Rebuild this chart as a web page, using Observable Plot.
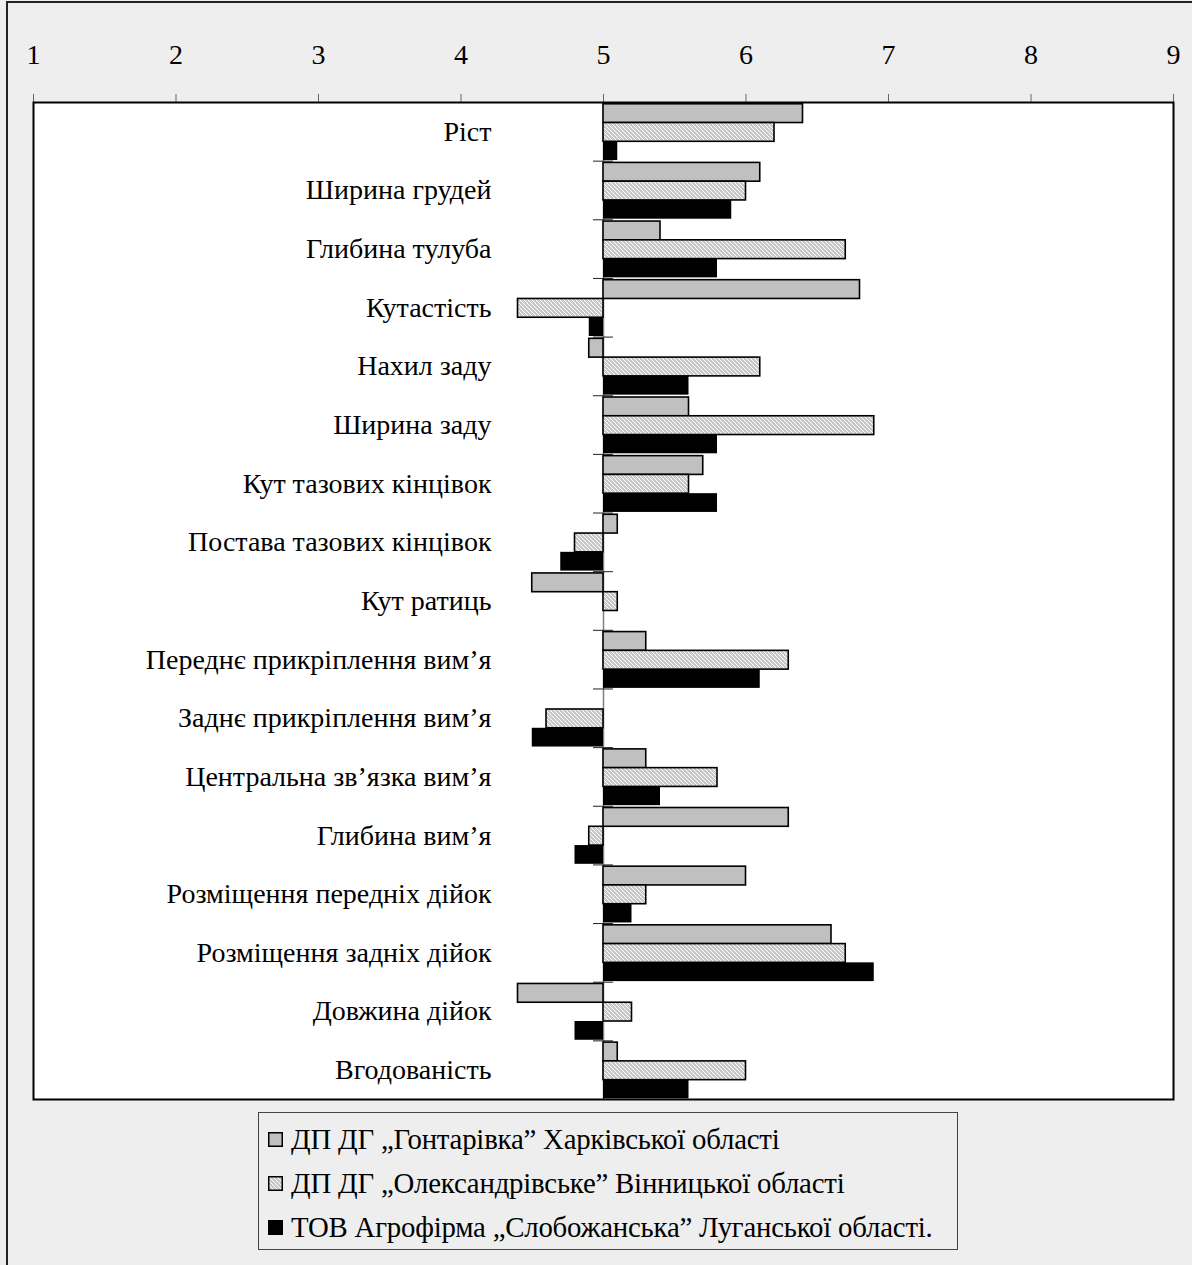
<!DOCTYPE html>
<html><head><meta charset="utf-8">
<script src="https://cdn.jsdelivr.net/npm/d3@7"></script>
<script src="https://cdn.jsdelivr.net/npm/@observablehq/plot@0.6"></script>
<style>
body{margin:0;background:#eeeeee;font-family:"Liberation Serif","Times New Roman",serif;color:#000;}
#wrap{position:relative;width:1192px;height:1265px;overflow:hidden;}
#border{position:absolute;left:6px;top:1px;width:2000px;height:2000px;border-left:2px solid #222;border-top:2px solid #222;}
#chart{position:absolute;left:0;top:0;}
#legend{position:absolute;left:258px;top:1112px;width:700px;height:138px;border:1px solid #444;box-sizing:border-box;}
.row{position:absolute;left:9px;height:30px;display:flex;align-items:center;font-size:28.8px;white-space:nowrap;letter-spacing:-0.2px;}
.row svg{margin-right:8px;flex:none;}
</style></head>
<body>
<div id="wrap"><div id="border"></div><div id="chart"></div><div id="legend"></div></div>
<script>
const categories = ["Ріст","Ширина грудей","Глибина тулуба","Кутастість","Нахил заду","Ширина заду","Кут тазових кінцівок","Постава тазових кінцівок","Кут ратиць","Переднє прикріплення вим’я","Заднє прикріплення вим’я","Центральна зв’язка вим’я","Глибина вим’я","Розміщення передніх дійок","Розміщення задніх дійок","Довжина дійок","Вгодованість"];
const seriesNames = ["ДП ДГ „Гонтарівка” Харківської області","ДП ДГ „Олександрівське” Вінницької області","ТОВ Агрофірма „Слобожанська” Луганської області."];
const gontarivka     = [6.4,6.1,5.4,6.8,4.9,5.6,5.7,5.1,4.5,5.3,5.0,5.3,6.3,6.0,6.6,4.4,5.1];
const oleksandrivske = [6.2,6.0,6.7,4.4,6.1,6.9,5.6,4.8,5.1,6.3,4.6,5.8,4.9,5.3,6.7,5.2,6.0];
const slobozhanska   = [5.1,5.9,5.8,4.9,5.6,5.8,5.8,4.7,5.0,6.1,4.5,5.4,4.8,5.2,6.9,4.8,5.6];
const xTicks = [1,2,3,4,5,6,7,8,9];
const baseline = 5;

const seriesValues = [gontarivka, oleksandrivske, slobozhanska];
const fills = ["#c0c0c0","url(#hatch)","#000"];
const barH = 0.32, barOff = 0.03;

const rows = j => categories.map((c,i)=>({cat:c,i,j,v:seriesValues[j][i]})).filter(d=>d.v!==baseline);

const barMark = j => Plot.rect(rows(j), {
  x1: baseline, x2: "v",
  y1: d => d.i + barOff + d.j*barH,
  y2: d => d.i + barOff + (d.j+1)*barH,
  fill: fills[j], stroke: "#000", strokeWidth: j===2 ? 0 : 1.6
});

const chart = Plot.plot({
  width: 1192, height: 1102,
  marginLeft: 33, marginRight: 19, marginTop: 102, marginBottom: 3,
  style: {fontSize: "28px", fontFamily: "'Liberation Serif','Times New Roman',serif", background: "transparent", color: "#000"},
  x: {domain: [1,9], axis: "top", ticks: xTicks, tickSize: 9, tickPadding: 30, tickFormat: d3.format("d"), label: null},
  y: {domain: [0, categories.length], reverse: true, axis: null},
  marks: [
    Plot.frame({fill: "white"}),
    Plot.ruleX([baseline], {stroke: "#808080", strokeWidth: 1.5}),
    Plot.ruleY(d3.range(1, categories.length), {x1: baseline - 0.07, x2: baseline + 0.07, stroke: "#222", strokeWidth: 1}),
    barMark(0), barMark(1), barMark(2),
    Plot.text(categories, {x: baseline, y: (d,i)=>i+0.5, text: d=>d, textAnchor: "end", dx: -112, fill: "#000"}),
    Plot.frame({stroke: "#000", strokeWidth: 2})
  ]
});
const ns = "http://www.w3.org/2000/svg";
const defs = document.createElementNS(ns, "defs");
defs.innerHTML = '<pattern id="hatch" patternUnits="userSpaceOnUse" width="4" height="4"><rect width="4" height="4" fill="#c8c8c8"/><path d="M-1,-1L5,5M3,-1L5,1M-1,3L1,5" stroke="#ffffff" stroke-width="1"/></pattern>';
chart.prepend(defs);
d3.select(chart).selectAll("g[aria-label='x-axis tick'] path, g[aria-label='x-axis tick'] line").attr("stroke","#666");
document.getElementById("chart").appendChild(chart);

const legend = document.getElementById("legend");
const rowTops = [11, 55, 99];
seriesNames.forEach((name, j) => {
  const r = document.createElement("div");
  r.className = "row";
  r.style.top = rowTops[j] + "px";
  r.innerHTML = `<svg width="15" height="15"><rect x="0.75" y="0.75" width="13.5" height="13.5" fill="${fills[j]}" stroke="#000" stroke-width="1.5"/></svg><span></span>`;
  r.querySelector("span").textContent = name;
  legend.appendChild(r);
});
</script>
</body></html>
